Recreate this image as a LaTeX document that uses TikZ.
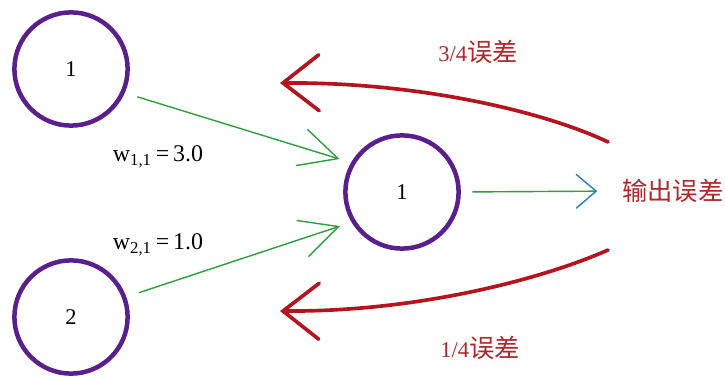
\documentclass[tikz,border=0pt]{standalone}
\usepackage{fontspec}
\setmainfont{Liberation Serif}
\newfontfamily\cjk{Noto Sans CJK SC}
\usetikzlibrary{arrows.meta}
\definecolor{nnpurple}{HTML}{5A1F8C}
\definecolor{errred}{HTML}{B3141E}
\definecolor{sigreen}{HTML}{2E9E3E}
\definecolor{outblue}{HTML}{2C7CC4}
\definecolor{txtred}{HTML}{B0262A}

\begin{document}
\begin{tikzpicture}[
  x=0.025cm, y=-0.025cm,
  neuron/.style={circle, draw=nnpurple, line width=3.2pt, minimum size=2.83cm, inner sep=0pt,
    font=\fontsize{16}{19}\selectfont},
  sig/.style={sigreen, line width=1pt, shorten <=3.3mm, shorten >=3mm,
    -{Straight Barb[length=9.5mm, width=9.5mm]}},
  err/.style={errred, line width=2.6pt, line cap=round,
    -{Straight Barb[length=9mm, width=14mm, line cap=round]}},
  wlbl/.style={font=\fontsize{17}{20}\selectfont, text=black},
  elbl/.style={font=\fontsize{16}{19}\selectfont, text=txtred, anchor=west, inner sep=0pt},
]

% Frame
\useasboundingbox (0,0) rectangle (725,379);

% === Neurons ===
\node[neuron] (in1) at (71,69) {1};
\node[neuron] (in2) at (71,317) {2};
\node[neuron] (hid) at (402,192) {1};

% Output error
\node[elbl, font=\fontsize{18}{21}\selectfont] (out) at (622,191) {\cjk 输出误差};

% === Weights ===
\node[wlbl] (w11) at (158,157) {w\textsubscript{1,1}\,=\,3.0};
\node[wlbl] (w21) at (158,245) {w\textsubscript{2,1}\,=\,1.0};

\draw[sig] (in1.-24) -- (hid.150);
\draw[sig] (in2.20) -- (hid.211);
\draw[sig, shorten <=2.9mm, shorten >=6.2mm,
  -{Straight Barb[length=5mm, width=8.5mm, color=outblue]}]
  (hid.east) -- (out.west);

% === Error split back ===
\coordinate (eAs) at (608,142);
\coordinate (eAe) at (280,83);
\coordinate (eBs) at (608,250);
\coordinate (eBe) at (280,311);

\draw[err] (eAs) .. controls (545,112) and (420,82) .. (eAe);
\draw[err] (eBs) .. controls (545,278) and (420,312) .. (eBe);

\node[elbl] (eA) at (438,52) {3/4{\cjk\fontsize{18}{21}\selectfont 误差}};
\node[elbl] (eB) at (440,348) {1/4{\cjk\fontsize{18}{21}\selectfont 误差}};

\end{tikzpicture}
\end{document}
